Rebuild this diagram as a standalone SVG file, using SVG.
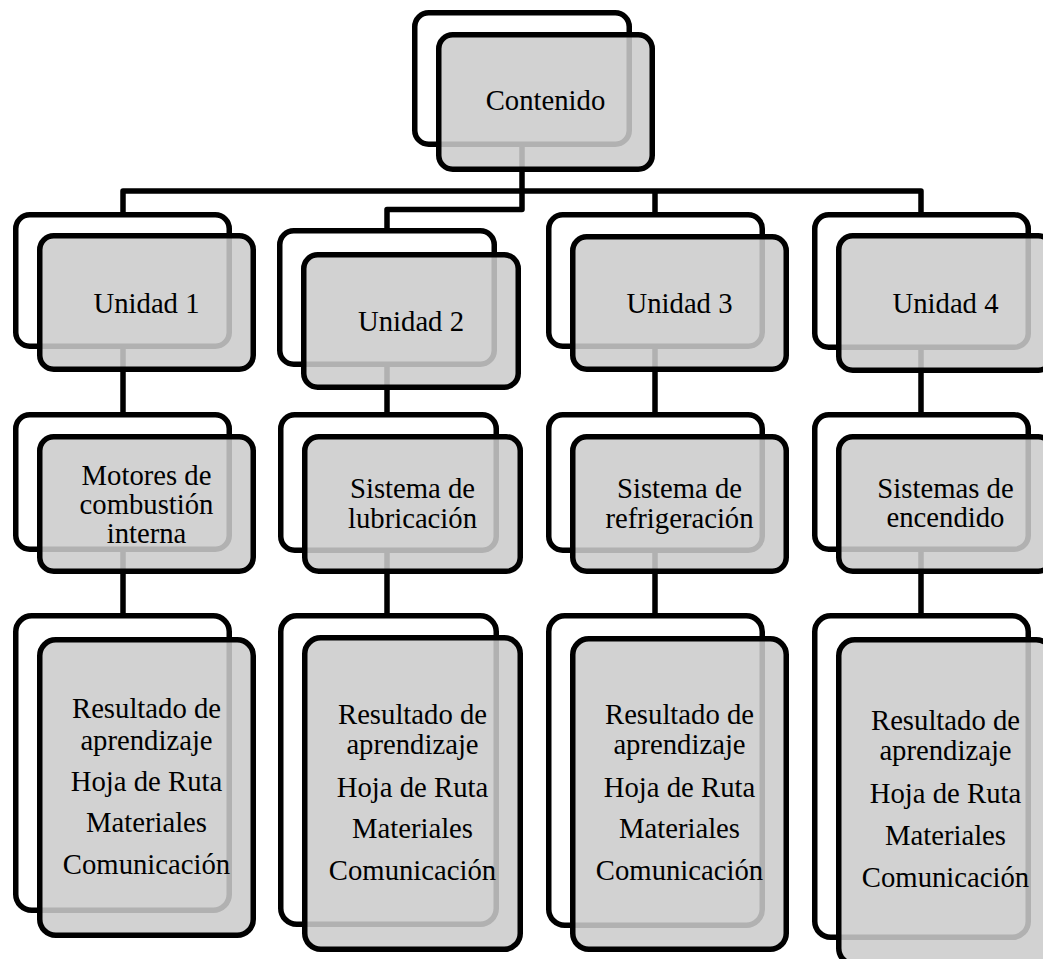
<svg xmlns="http://www.w3.org/2000/svg" width="1043" height="959" viewBox="0 0 1043 959">
<style>
.bk{fill:#ffffff;stroke:#000;stroke-width:5.5}
.fr{fill:#cbcbcb;fill-opacity:0.87;stroke:#000;stroke-width:5.5}
.cn{fill:none;stroke:#000;stroke-width:5.5;stroke-linejoin:round}
text{font-family:"Liberation Serif","Times New Roman",serif;font-size:28.7px;fill:#000;text-anchor:middle}
</style>
<rect width="1043" height="959" fill="#ffffff"/>
<g id="connectors">
<path class="cn" d="M123,214 V191 H921 V214"/>
<path class="cn" d="M655,191 V214"/>
<path class="cn" d="M522,145 V209.5 H387 V230"/>
<path class="cn" d="M123,346 V414 M123,550 V615"/>
<path class="cn" d="M387,364 V414 M387,550 V615"/>
<path class="cn" d="M655,346 V414 M655,550 V615"/>
<path class="cn" d="M921,347 V414 M921,550 V615"/>
</g>
<g id="contenido">
<rect class="bk" x="414.75" y="12.75" width="214.5" height="131.5" rx="14"/>
<rect class="fr" x="438.75" y="34.75" width="213.5" height="134.5" rx="14"/>
<text x="545.5" y="110">Contenido</text>
</g>
<g id="unidad1">
<rect class="bk" x="15.75" y="214.75" width="213.5" height="131.5" rx="14"/>
<rect class="fr" x="39.75" y="235.75" width="213.5" height="133.5" rx="14"/>
<text x="146.5" y="313">Unidad 1</text>
</g>
<g id="unidad2">
<rect class="bk" x="279.75" y="230.75" width="214.5" height="133.5" rx="14"/>
<rect class="fr" x="303.75" y="254.75" width="214.5" height="132.5" rx="14"/>
<text x="411" y="331">Unidad 2</text>
</g>
<g id="unidad3">
<rect class="bk" x="548.75" y="214.75" width="213.5" height="131.5" rx="14"/>
<rect class="fr" x="572.75" y="236.75" width="213.5" height="132.5" rx="14"/>
<text x="679.5" y="313">Unidad 3</text>
</g>
<g id="unidad4">
<rect class="bk" x="814.75" y="214.75" width="213.5" height="132.5" rx="14"/>
<rect class="fr" x="838.75" y="235.75" width="213.5" height="134.5" rx="14"/>
<text x="945.5" y="313">Unidad 4</text>
</g>
<g id="motores">
<rect class="bk" x="15.75" y="414.75" width="213.5" height="134.5" rx="14"/>
<rect class="fr" x="39.75" y="436.75" width="213.5" height="134.5" rx="14"/>
<text x="146.5" y="485">Motores de</text>
<text x="146.5" y="514">combustión</text>
<text x="146.5" y="543">interna</text>
</g>
<g id="lubricacion">
<rect class="bk" x="280.75" y="414.75" width="215.5" height="135.5" rx="14"/>
<rect class="fr" x="304.75" y="436.75" width="215.5" height="134.5" rx="14"/>
<text x="412.5" y="498">Sistema de</text>
<text x="412.5" y="528">lubricación</text>
</g>
<g id="refrigeracion">
<rect class="bk" x="548.75" y="414.75" width="213.5" height="135.5" rx="14"/>
<rect class="fr" x="572.75" y="436.75" width="213.5" height="134.5" rx="14"/>
<text x="679.5" y="498">Sistema de</text>
<text x="679.5" y="528">refrigeración</text>
</g>
<g id="encendido">
<rect class="bk" x="814.75" y="414.75" width="213.5" height="134.5" rx="14"/>
<rect class="fr" x="838.75" y="436.75" width="213.5" height="134.5" rx="14"/>
<text x="945.5" y="498">Sistemas de</text>
<text x="945.5" y="527">encendido</text>
</g>
<g id="recursos1">
<rect class="bk" x="15.75" y="615.75" width="213.5" height="294.5" rx="16"/>
<rect class="fr" x="39.75" y="639.75" width="213.5" height="295.5" rx="16"/>
<text x="146.5" y="718">Resultado de</text>
<text x="146.5" y="750">aprendizaje</text>
<text x="146.5" y="790.5">Hoja de Ruta</text>
<text x="146.5" y="832">Materiales</text>
<text x="146.5" y="874">Comunicación</text>
</g>
<g id="recursos2">
<rect class="bk" x="280.75" y="615.75" width="215.5" height="308.5" rx="16"/>
<rect class="fr" x="304.75" y="637.75" width="215.5" height="311.5" rx="16"/>
<text x="412.5" y="724">Resultado de</text>
<text x="412.5" y="754">aprendizaje</text>
<text x="412.5" y="797">Hoja de Ruta</text>
<text x="412.5" y="838">Materiales</text>
<text x="412.5" y="880">Comunicación</text>
</g>
<g id="recursos3">
<rect class="bk" x="548.75" y="615.75" width="213.5" height="309.5" rx="16"/>
<rect class="fr" x="572.75" y="638.75" width="213.5" height="310.5" rx="16"/>
<text x="679.5" y="724">Resultado de</text>
<text x="679.5" y="754">aprendizaje</text>
<text x="679.5" y="797">Hoja de Ruta</text>
<text x="679.5" y="838">Materiales</text>
<text x="679.5" y="880">Comunicación</text>
</g>
<g id="recursos4">
<rect class="bk" x="814.75" y="615.75" width="213.5" height="321.5" rx="16"/>
<rect class="fr" x="838.75" y="639.75" width="213.5" height="324.5" rx="16"/>
<text x="945.5" y="730">Resultado de</text>
<text x="945.5" y="760">aprendizaje</text>
<text x="945.5" y="803">Hoja de Ruta</text>
<text x="945.5" y="845">Materiales</text>
<text x="945.5" y="887">Comunicación</text>
</g>
</svg>
